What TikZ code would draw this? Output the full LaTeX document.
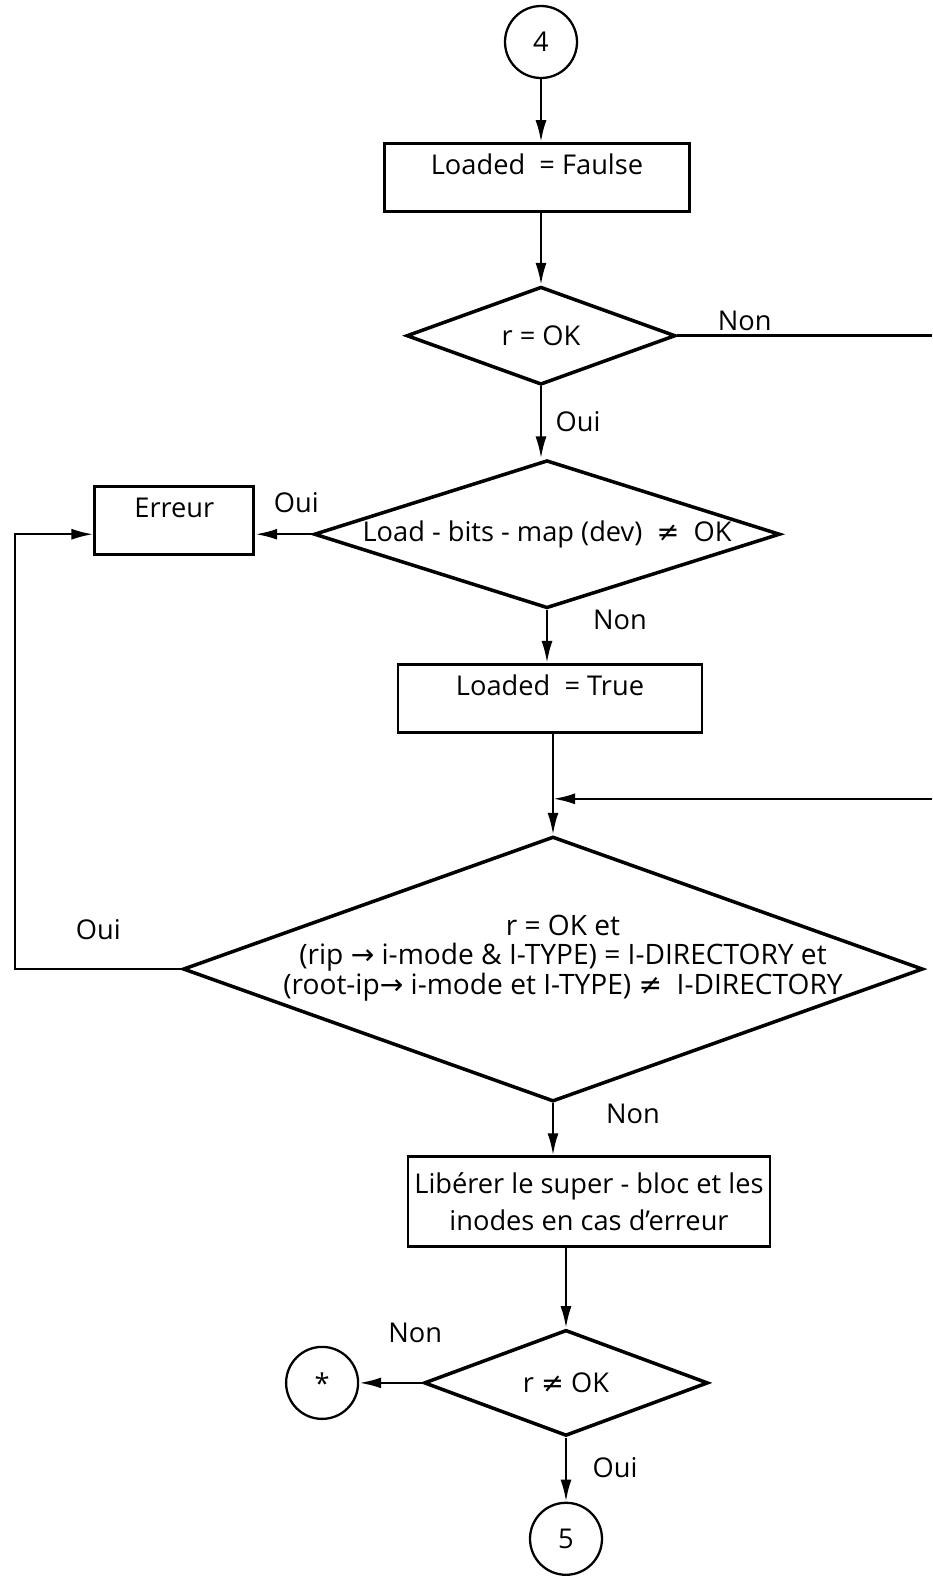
\documentclass[tikz,border=0pt]{standalone}
\usepackage{fontspec}
\setmainfont{Open Sans}
\newfontfamily\symfont{DejaVu Sans}
\usetikzlibrary{positioning, arrows.meta, shapes.geometric}

\newcommand{\neqsym}{{\symfont ≠}}
\newcommand{\arrsym}{{\symfont →}}

\begin{document}
\begin{tikzpicture}[
    font=\fontsize{15.5}{18}\selectfont,
    box/.style={
        draw,
        line width=1.6pt,
        minimum width=#1,
        inner sep=0pt,
        text height=0.62cm,
        text depth=0.74cm
    },
    boxtwo/.style={
        draw,
        line width=1.6pt,
        minimum width=7.24cm,
        minimum height=1.8cm,
        inner sep=0pt,
        align=center,
        font=\fontsize{15.5}{21}\selectfont
    },
    dec/.style={
        draw,
        diamond,
        line width=2pt,
        inner sep=0pt,
        shape aspect=2.8
    },
    conn/.style={draw, circle, line width=1.3pt, minimum size=1.44cm, inner sep=0pt},
    lbl/.style={inner sep=0pt},
    arrow/.style={-{Latex[length=0.44cm, width=0.22cm]}, line width=1.4pt},
    link/.style={line width=1.4pt}
]
\useasboundingbox (0,0) rectangle (18.64,-31.52);
\coordinate (edge) at (18.64,0);
\coordinate (loop) at (0.3,0);

\node[conn] (c4) at (10.82,-0.84) {4};
\node[box=6.1cm, below=1.26cm of c4, xshift=-0.08cm] (faulse) {Loaded\ \ = Faulse};
\node[dec, minimum width=5.38cm, minimum height=1.96cm, below=1.44cm of faulse, xshift=0.08cm] (d1) {r = OK};
\node[dec, shape aspect=3.15, minimum width=9.32cm, minimum height=2.96cm, below=1.44cm of d1, xshift=0.12cm] (d2) {Load - bits - map (dev)\ \ \neqsym\ \ OK};
\node[box=3.18cm, left=1.14cm of d2, yshift=0.28cm] (erreur) {Erreur};
\node[box=6.08cm, below=1.06cm of d2, xshift=0.06cm] (true) {Loaded\ \ = True};
\node[dec, minimum width=14.8cm, minimum height=5.3cm, below=2.02cm of true, xshift=0.06cm] (d3) {};
\node[align=center, inner sep=0pt, font=\fontsize{16}{16.8}\selectfont] (d3txt) at ([shift={(0.2,0.22)}]d3.center)
    {r = OK et\\(rip \arrsym\ i-mode \& I-TYPE) = I-DIRECTORY et\\(root-ip\arrsym\ i-mode et I-TYPE) \neqsym\ \ I-DIRECTORY};
\node[boxtwo, below=1.04cm of d3, xshift=0.72cm] (liberer) {Libérer le super - bloc et les\\inodes en cas d’erreur};
\node[dec, minimum width=5.68cm, minimum height=2.12cm, below=1.6cm of liberer, xshift=-0.46cm] (d4) {r \neqsym\ OK};
\node[conn, left=1.26cm of d4] (star) {*};
\node[conn, below=1.28cm of d4] (c5) {5};

% branch labels
\node[lbl] (nonA) at ([shift={(1.35,0.3)}]d1.east) {Non};
\node[lbl] (ouiA) at ([shift={(0.74,-0.7)}]d1.south) {Oui};
\node[lbl] (ouiB) at ([shift={(-0.32,0.64)}]d2.west) {Oui};
\node[lbl] (nonB) at ([shift={(1.46,-0.2)}]d2.south) {Non};
\node[lbl] (ouiC) at ([shift={(-1.66,0.79)}]d3.west) {Oui};
\node[lbl] (nonC) at ([shift={(1.6,-0.22)}]d3.south) {Non};
\node[lbl] (nonD) at ([shift={(-0.14,1.0)}]d4.west) {Non};
\node[lbl] (ouiD) at ([shift={(0.98,-0.6)}]d4.south) {Oui};

\draw[arrow] (c4.south) -- (c4.south |- faulse.north);
\draw[arrow] (faulse.south -| d1.north) -- (d1.north);
\draw[link] (d1.east) -- (d1.east -| edge);
\draw[arrow] (d1.south) -- (d1.south |- d2.north);
\draw[arrow] (d2.west) -- (d2.west -| erreur.east);
\draw[arrow] (d2.south) -- (d2.south |- true.north);
\draw[arrow] (true.south -| d3.north) -- (d3.north);
\path (true.south -| d3.north) ++(0,-1.3) coordinate (merge);
\draw[arrow] (merge -| edge) -- (merge);
\draw[arrow] (d3.west) -- (d3.west -| loop) |- (d2.west -| erreur.west);
\draw[arrow] (d3.south) -- (d3.south |- liberer.north);
\draw[arrow] (liberer.south -| d4.north) -- (d4.north);
\draw[arrow] (d4.west) -- (star);
\draw[arrow] (d4.south) -- (c5);

\end{tikzpicture}
\end{document}
